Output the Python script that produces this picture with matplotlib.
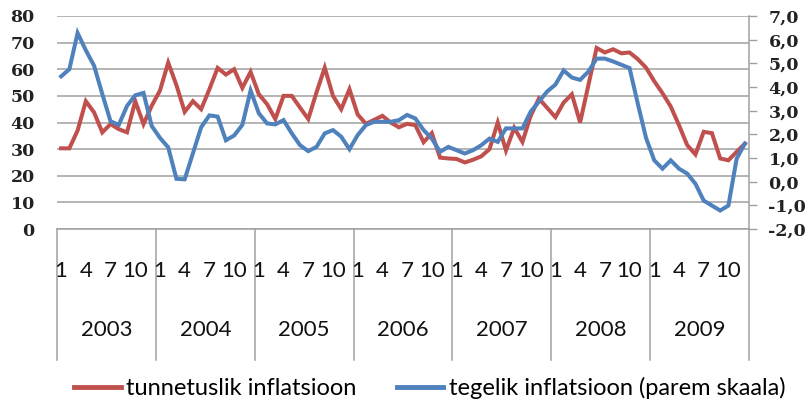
import matplotlib
matplotlib.use("Agg")
import matplotlib.pyplot as plt
from matplotlib.lines import Line2D
import numpy as np

years = ["2003", "2004", "2005", "2006", "2007", "2008", "2009"]
month_labels = ["1", "4", "7", "10"]
month_label_idx = [0, 3, 6, 9]

# tunnetuslik inflatsioon (left scale)
perceived = [
    30.3, 30.3, 37.0, 48.0, 43.8, 36.3, 39.4, 37.5, 36.3, 48.0, 39.4, 46.3,
    52.0, 62.5, 54.0, 44.0, 48.0, 45.0, 52.5, 60.5, 58.0, 60.0, 53.0, 59.0,
    50.6, 46.9, 41.3, 50.0, 50.0, 45.6, 41.3, 51.3, 60.6, 50.0, 45.0, 52.5,
    43.0, 39.5, 41.0, 42.5, 40.0, 38.2, 39.5, 39.0, 32.6, 36.0, 26.8, 26.5,
    26.3, 25.0, 26.0, 27.3, 30.0, 40.0, 29.5, 38.0, 32.7, 42.5, 49.0, 45.5,
    42.0, 47.5, 50.6, 40.0, 54.0, 68.0, 66.3, 67.5, 66.0, 66.3, 63.8, 60.6,
    55.5, 51.0, 46.0, 39.0, 31.5, 28.0, 36.5, 36.0, 26.5, 25.8, 29.0, 32.0,
]

# tegelik inflatsioon (right scale)
actual = [
    4.45, 4.75, 6.28, 5.55, 4.90, 3.70, 2.55, 2.40, 3.20, 3.65, 3.75, 2.35,
    1.85, 1.45, 0.12, 0.10, 1.20, 2.30, 2.80, 2.75, 1.75, 1.95, 2.40, 3.85,
    2.89, 2.46, 2.42, 2.60, 2.04, 1.54, 1.29, 1.47, 2.04, 2.18, 1.90, 1.37,
    1.97, 2.39, 2.53, 2.53, 2.53, 2.60, 2.82, 2.67, 2.18, 1.82, 1.26, 1.47,
    1.33, 1.19, 1.33, 1.54, 1.82, 1.68, 2.25, 2.25, 2.25, 2.96, 3.38, 3.81,
    4.10, 4.70, 4.40, 4.30, 4.65, 5.20, 5.20, 5.08, 4.94, 4.80, 3.30, 1.85,
    0.90, 0.55, 0.90, 0.55, 0.34, -0.09, -0.80, -1.01, -1.22, -1.01, 0.97, 1.61,
]

left_ticks = [0, 10, 20, 30, 40, 50, 60, 70, 80]
right_ticks = [-2, -1, 0, 1, 2, 3, 4, 5, 6, 7]

label_red = "tunnetuslik inflatsioon"
label_blue = "tegelik inflatsioon (parem skaala)"

RED = "#C0504D"
BLUE = "#4F81BD"
GRID = "#a0a0a0"

fig = plt.figure(figsize=(8.09, 4.04), dpi=100)
ax = fig.add_axes([57 / 809, 175 / 404, (749 - 57) / 809, (229 - 16) / 404])
ax2 = ax.twinx()

x = np.arange(len(perceived))
ax.plot(x, perceived, color=RED, lw=2.9, solid_joinstyle="miter", zorder=3)
ax2.plot(x, actual, color=BLUE, lw=2.9, solid_joinstyle="miter", zorder=3)

ax.set_xlim(-0.5, len(perceived) - 0.5)
ax.set_ylim(0, 80)
ax2.set_ylim(-2, 7)

serif = ["DejaVu Serif"]
ax.set_yticks(left_ticks)
ax.set_yticklabels([str(t) for t in left_ticks], family=serif, fontsize=12.5,
                   fontweight="bold", color="#222222")
ax.tick_params(axis="y", length=0, pad=16)
ax.yaxis.grid(True, color=GRID, lw=1.1)
ax.set_axisbelow(True)
ax.set_xticks([])

ax2.set_yticks(right_ticks)
ax2.set_yticklabels([f"{t:.1f}".replace(".", ",") for t in right_ticks],
                    family=serif, fontsize=12.5, fontweight="bold", color="#222222")
ax2.tick_params(axis="y", length=6, width=1.0, color=GRID, pad=8, direction="out")

for a in (ax, ax2):
    for s in ("left", "top"):
        a.spines[s].set_visible(False)
    a.spines["bottom"].set_color(GRID)
    a.spines["bottom"].set_linewidth(1.1)
    a.spines["right"].set_color(GRID)
    a.spines["right"].set_linewidth(1.1)
ax.spines["right"].set_visible(False)
ax2.spines["bottom"].set_visible(False)

narrow = ["Lato", "DejaVu Sans"]
trans = ax.get_xaxis_transform()
for yi, yname in enumerate(years):
    for mi, ml in zip(month_label_idx, month_labels):
        ax.text(yi * 12 + mi, -42 / 213, ml, transform=trans, ha="center",
                va="center", fontsize=16, family=narrow, color="#111111")
    ax.text(yi * 12 + 5.5, -101 / 213, yname, transform=trans, ha="center",
            va="center", fontsize=16, family=narrow, color="#111111")
for k in range(len(years) + 1):
    ax.add_line(Line2D([k * 12 - 0.5, k * 12 - 0.5], [0, -131 / 213],
                       transform=trans, color=GRID, lw=1.1, clip_on=False))

handles = [Line2D([], [], color=RED, lw=3.5), Line2D([], [], color=BLUE, lw=3.5)]
fig.legend(handles, [label_red, label_blue], loc="center",
           bbox_to_anchor=(430 / 809, 1 - 388 / 404), ncol=2, frameon=False,
           prop={"family": narrow, "size": 17}, handlelength=1.95,
           handletextpad=0.25, columnspacing=1.7, borderpad=0)

fig.savefig("out.png", dpi=100)
